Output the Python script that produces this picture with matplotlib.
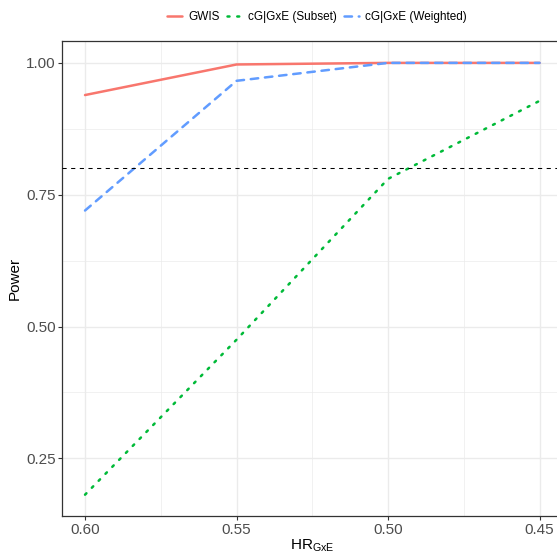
import matplotlib
matplotlib.use("Agg")
import matplotlib.pyplot as plt
from matplotlib.ticker import FixedLocator, FormatStrFormatter

# ----------------------------
# Data
# ----------------------------
hr_gxe = [0.60, 0.55, 0.50, 0.45]
power_gwis = [0.939, 0.997, 1.000, 1.000]
power_subset = [0.181, 0.475, 0.780, 0.928]
power_weighted = [0.720, 0.966, 1.000, 1.000]
series_names = ["GWIS", "cG|GxE (Subset)", "cG|GxE (Weighted)"]
x_ticks = [0.60, 0.55, 0.50, 0.45]
y_ticks = [0.25, 0.50, 0.75, 1.00]
threshold = 0.8

# ggplot default hue palette
RED, GREEN, BLUE = "#F8766D", "#00BA38", "#619CFF"

plt.rcParams["font.family"] = ["Liberation Sans", "DejaVu Sans"]
plt.rcParams["mathtext.fontset"] = "custom"
plt.rcParams["mathtext.rm"] = "Liberation Sans"

fig = plt.figure(figsize=(5.57, 5.53), dpi=100)
# panel runs off the right edge like in the reference
ax = fig.add_axes([62.3 / 557, 1 - 516.3 / 553, 500 / 557, 475 / 553])

lw = 1.8
ax.plot(hr_gxe, power_gwis, color=RED, lw=lw, solid_capstyle="round",
        solid_joinstyle="round", label=series_names[0], zorder=3)
ax.plot(hr_gxe, power_subset, color=GREEN, lw=lw, linestyle=(0, (0.8, 3.1)),
        dash_capstyle="round", label=series_names[1], zorder=3)
ax.plot(hr_gxe, power_weighted, color=BLUE, lw=lw, linestyle=(0, (3.0, 2.7)),
        dash_capstyle="round", label=series_names[2], zorder=3)
ax.axhline(threshold, color="black", lw=0.75, linestyle=(0, (4, 4.3)), zorder=4)

ax.margins(x=0.05, y=0.05)
ax.invert_xaxis()

# theme_bw look
ax.xaxis.set_major_locator(FixedLocator(x_ticks))
ax.yaxis.set_major_locator(FixedLocator(y_ticks))
ax.xaxis.set_minor_locator(FixedLocator([0.575, 0.525, 0.475]))
ax.yaxis.set_minor_locator(FixedLocator([0.375, 0.625, 0.875]))
ax.xaxis.set_major_formatter(FormatStrFormatter("%.2f"))
ax.yaxis.set_major_formatter(FormatStrFormatter("%.2f"))
ax.grid(which="major", color="#EBEBEB", lw=1.0, zorder=0)
ax.grid(which="minor", color="#EBEBEB", lw=0.5, zorder=0)
ax.set_axisbelow(True)
for s in ax.spines.values():
    s.set_color("#333333")
    s.set_linewidth(0.9)
ax.spines["right"].set_visible(False)
ax.tick_params(which="major", length=2.75, width=0.8, color="#333333",
               labelcolor="#4D4D4D", labelsize=11, pad=1.8)
ax.tick_params(which="minor", length=0)

ax.set_xlabel(r"HR$_{\mathrm{GxE}}$", fontsize=11, labelpad=0.5)
ax.set_ylabel("Power", fontsize=11, labelpad=3)

ax.legend(loc="center", bbox_to_anchor=(317 / 557, 1 - 17 / 553), bbox_transform=fig.transFigure,
          ncol=3, frameon=False, fontsize=8.5, handlelength=1.3, handletextpad=0.5,
          columnspacing=0.6)

fig.savefig("out.png", dpi=100)
